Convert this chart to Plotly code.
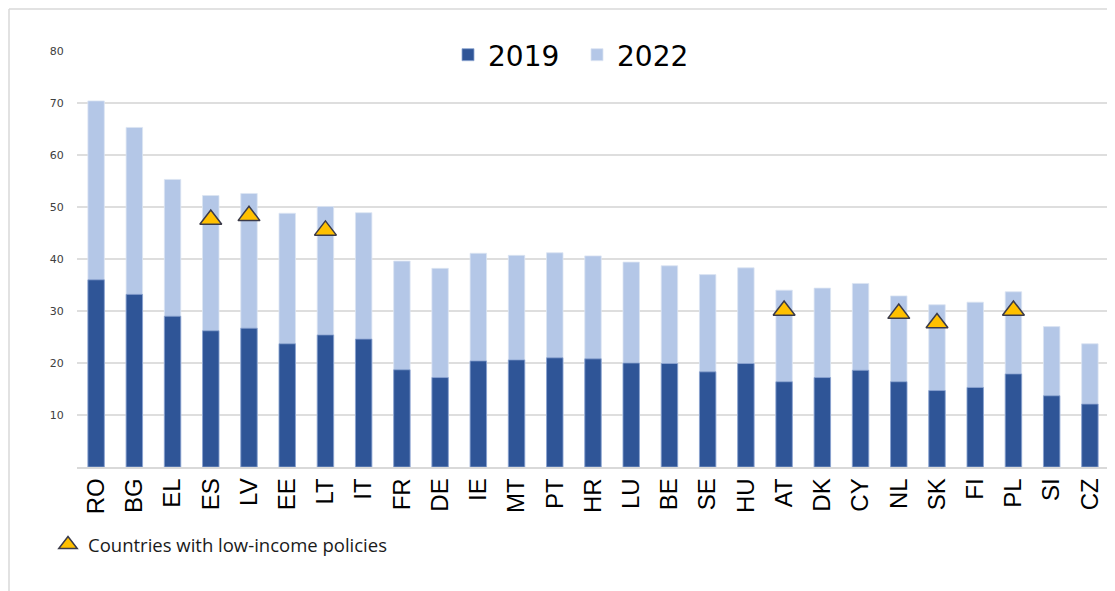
import plotly.graph_objects as go

countries = ["RO", "BG", "EL", "ES", "LV", "EE", "LT", "IT", "FR", "DE", "IE", "MT", "PT", "HR",
             "LU", "BE", "SE", "HU", "AT", "DK", "CY", "NL", "SK", "FI", "PL", "SI", "CZ"]
v2019 = [36.0, 33.2, 29.0, 26.2, 26.7, 23.7, 25.4, 24.6, 18.7, 17.2, 20.4, 20.6, 21.0, 20.8,
         20.0, 19.9, 18.3, 19.9, 16.4, 17.2, 18.6, 16.4, 14.7, 15.3, 17.9, 13.7, 12.1]
v2022 = [70.4, 65.3, 55.3, 52.2, 52.6, 48.8, 50.1, 48.9, 39.6, 38.2, 41.1, 40.7, 41.2, 40.6,
         39.4, 38.7, 37.0, 38.3, 34.0, 34.4, 35.3, 32.9, 31.2, 31.7, 33.7, 27.0, 23.7]
policy_countries = ["ES", "LV", "LT", "AT", "NL", "SK", "PL"]
policy_values = [47.6, 48.3, 45.5, 30.1, 29.5, 27.7, 30.1]
y_ticks = [10, 20, 30, 40, 50, 60, 70, 80]

W, H = 1115, 591
OFF = 8  # page body margin
ML, MR, MT, MB = 77 - OFF, 14, 51 - OFF, 132
PW, PH = W - ML - MR, H - MT - MB

fig = go.Figure()
fig.add_trace(go.Bar(x=countries, y=v2022, name="2022",
                     marker=dict(color="#B4C7E7", line=dict(color="#DCE5F3", width=0.8))))
fig.add_trace(go.Bar(x=countries, y=v2019, name="2019",
                     marker=dict(color="#2F5597", line=dict(color="#8EA6D2", width=0.8))))
fig.add_trace(go.Scatter(x=policy_countries, y=policy_values, mode="markers",
                         name="Countries with low-income policies", legend="legend2",
                         marker=dict(symbol="triangle-up", size=19, color="#FFC000",
                                     line=dict(color="#3A3A4A", width=1.5))))

fig.update_layout(
    width=W, height=H,
    margin=dict(l=ML, r=MR, t=MT, b=MB, autoexpand=False),
    paper_bgcolor="white", plot_bgcolor="white",
    barmode="overlay", bargap=0.57,
    font=dict(family="Liberation Sans, Arial, sans-serif", color="#000000"),
    legend=dict(orientation="h", xref="container", yref="container",
                x=(577 - OFF) / W, xanchor="center", y=1 - (55 - OFF) / H, yanchor="middle",
                traceorder="reversed", font=dict(size=28, family="DejaVu Sans, sans-serif"),
                itemwidth=30, entrywidth=84, bgcolor="rgba(0,0,0,0)"),
    legend2=dict(xref="container", yref="container",
                 x=(48 - OFF) / W, xanchor="left", y=1 - (545 - OFF) / H, yanchor="middle",
                 font=dict(size=18.5, family="Open Sans, sans-serif", color="#1a1a1a"),
                 bgcolor="rgba(0,0,0,0)", itemwidth=30),
    xaxis=dict(tickangle=-90,
               tickfont=dict(size=24, family="Liberation Sans Narrow, Liberation Sans, sans-serif",
                             color="#000"),
               showgrid=False, showline=True, linecolor="#d9d9d9", linewidth=1.5,
               ticks="", fixedrange=True, automargin=False),
    yaxis=dict(range=[0, 80], tickvals=y_ticks, showgrid=True, gridcolor="#dedede", gridwidth=1.5,
               tickfont=dict(size=11, color="#404040", family="DejaVu Sans, sans-serif"),
               zeroline=False, showline=False, ticks="outside", ticklen=10, tickcolor="white",
               fixedrange=True, automargin=False),
    shapes=[
        dict(type="line", xref="paper", yref="paper",
             x0=(1 - ML) / PW, x1=1.05,
             y0=1 + (MT - 1) / PH, y1=1 + (MT - 1) / PH,
             line=dict(color="#d9d9d9", width=1.5)),
        dict(type="line", xref="paper", yref="paper",
             x0=(1 - ML) / PW, x1=(1 - ML) / PW,
             y0=1 + (MT - 1) / PH, y1=-0.4,
             line=dict(color="#d9d9d9", width=1.5)),
    ],
)

fig.write_html("out.html")
